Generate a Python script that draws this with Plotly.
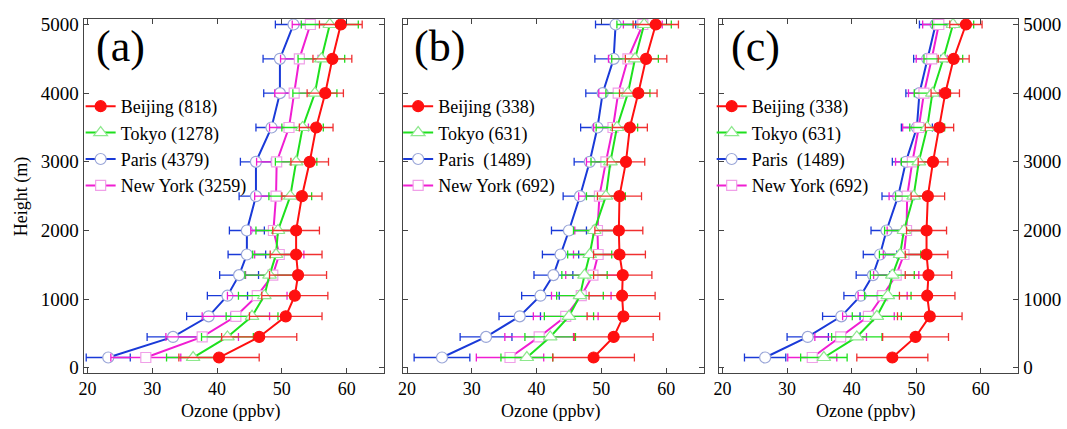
import plotly.graph_objects as go

heights = [150, 450, 750, 1050, 1350, 1650, 2000, 2500, 3000, 3500, 4000, 4500, 5000]
x_ticks = [20, 30, 40, 50, 60]
y_ticks = [0, 1000, 2000, 3000, 4000, 5000]

# Panel (a)
a_names = ["Beijing (818)", "Tokyo (1278)", "Paris (4379)", "New York (3259)"]
a_beijing = [40.3, 46.5, 50.6, 52.0, 52.5, 52.2, 52.2, 53.1, 54.3, 55.3, 56.7, 57.8, 59.1]
a_beijing_sd = [6.2, 5.8, 5.6, 5.1, 4.4, 4.0, 3.6, 3.1, 2.9, 2.6, 2.8, 3.0, 3.3]
a_tokyo = [36.3, 41.6, 45.4, 47.3, 48.1, 49.1, 49.4, 51.3, 52.2, 53.2, 55.1, 56.1, 57.4]
a_tokyo_sd = [4.1, 4.0, 4.0, 4.0, 3.8, 3.6, 3.4, 3.3, 3.2, 3.2, 3.4, 3.6, 4.4]
a_paris = [23.2, 33.2, 38.7, 41.6, 43.4, 44.6, 44.6, 46.0, 46.0, 48.4, 49.7, 49.7, 51.8]
a_paris_sd = [3.4, 4.0, 3.4, 3.1, 3.0, 2.9, 2.7, 2.6, 2.4, 2.4, 2.5, 2.6, 2.8]
a_newyork = [29.0, 37.7, 42.9, 46.2, 48.6, 49.6, 48.7, 49.1, 49.2, 51.1, 51.9, 52.7, 54.4]
a_newyork_sd = [5.4, 5.6, 5.2, 4.6, 4.2, 3.8, 3.5, 3.3, 3.1, 3.0, 3.0, 2.9, 2.8]

# Panel (b)
b_names = ["Beijing (338)", "Tokyo (631)", "Paris\u00a0\u00a0(1489)", "New York (692)"]
b_beijing = [48.8, 51.9, 53.4, 53.2, 53.3, 52.8, 52.7, 52.8, 53.8, 54.4, 55.7, 56.9, 58.4]
b_beijing_sd = [6.3, 6.1, 5.6, 5.1, 4.5, 4.0, 3.7, 3.4, 2.9, 2.7, 2.9, 3.2, 3.5]
b_tokyo = [38.5, 42.1, 45.0, 46.7, 47.4, 48.2, 48.9, 50.7, 51.4, 52.4, 54.1, 55.2, 56.6]
b_tokyo_sd = [4.0, 3.9, 3.8, 3.6, 3.5, 3.4, 3.2, 3.0, 3.0, 3.2, 3.4, 3.6, 4.2]
b_paris = [25.4, 32.2, 37.4, 40.6, 42.6, 43.7, 45.0, 46.7, 48.2, 49.4, 50.2, 51.9, 52.2]
b_paris_sd = [4.3, 4.0, 3.2, 2.9, 3.0, 2.8, 2.7, 2.6, 2.4, 2.6, 2.6, 2.9, 3.1]
b_newyork = [35.9, 40.4, 44.5, 46.9, 48.7, 49.5, 49.4, 49.7, 50.7, 51.8, 52.6, 54.1, 56.4]
b_newyork_sd = [5.2, 5.3, 5.0, 4.6, 4.2, 3.8, 3.5, 3.2, 3.0, 3.0, 3.0, 3.0, 3.0]

# Panel (c)
c_names = ["Beijing (338)", "Tokyo (631)", "Paris\u00a0\u00a0(1489)", "New York (692)"]
c_beijing = [46.3, 49.9, 52.1, 51.7, 51.9, 51.6, 51.6, 51.8, 52.6, 53.6, 54.5, 55.8, 57.7]
c_beijing_sd = [5.5, 5.1, 5.0, 4.3, 3.6, 3.3, 3.1, 2.6, 2.3, 2.2, 2.2, 2.4, 2.5]
c_tokyo = [35.7, 40.8, 43.9, 45.6, 46.3, 47.5, 48.1, 49.6, 50.4, 51.7, 52.5, 54.2, 55.7]
c_tokyo_sd = [3.6, 3.9, 3.8, 3.6, 3.4, 3.2, 3.0, 2.8, 2.7, 2.7, 2.8, 3.0, 3.2]
c_paris = [26.6, 33.2, 38.4, 41.4, 43.3, 44.4, 45.4, 47.2, 48.4, 50.1, 50.5, 51.7, 53.0]
c_paris_sd = [3.2, 3.2, 2.9, 2.6, 2.6, 2.6, 2.4, 2.5, 2.1, 2.4, 2.1, 2.1, 2.5]
c_newyork = [33.9, 38.3, 42.6, 44.8, 46.9, 48.1, 48.5, 48.6, 49.4, 50.4, 51.2, 52.4, 53.5]
c_newyork_sd = [3.8, 4.0, 4.0, 3.8, 3.5, 3.2, 3.0, 2.8, 2.6, 2.5, 2.4, 2.4, 2.5]

panel_labels = ["(a)", "(b)", "(c)"]
x_title = "Ozone (ppbv)"
y_title = "Height (m)"

W, H = 1067, 429
SERIF = "Times New Roman, Liberation Serif, DejaVu Serif, serif"

styles = {
    "beijing": dict(color="#ff1010", err="#f03030", symbol="circle", fill="#ff1010", outline="#ff1010", size=11, rank=1),
    "tokyo": dict(color="#1ee01e", err="#1ee01e", symbol="triangle-up", fill="white", outline="#8ee88e", size=12, rank=2),
    "paris": dict(color="#1a3ad8", err="#1a3ad8", symbol="circle", fill="white", outline="#9aa6d8", size=11, rank=3),
    "newyork": dict(color="#f01ed2", err="#f01ed2", symbol="square", fill="white", outline="#f0a0e8", size=10, rank=4),
}

panels = [
    (a_names, {"beijing": (a_beijing, a_beijing_sd), "tokyo": (a_tokyo, a_tokyo_sd),
               "paris": (a_paris, a_paris_sd), "newyork": (a_newyork, a_newyork_sd)}),
    (b_names, {"beijing": (b_beijing, b_beijing_sd), "tokyo": (b_tokyo, b_tokyo_sd),
               "paris": (b_paris, b_paris_sd), "newyork": (b_newyork, b_newyork_sd)}),
    (c_names, {"beijing": (c_beijing, c_beijing_sd), "tokyo": (c_tokyo, c_tokyo_sd),
               "paris": (c_paris, c_paris_sd), "newyork": (c_newyork, c_newyork_sd)}),
]

x_px = [(79, 381), (400, 702), (717, 1018)]
y_px = (15, 377.5)
legend_left_px = [76, 395, 710]

fig = go.Figure()
order = ["paris", "newyork", "tokyo", "beijing"]
name_idx = {"beijing": 0, "tokyo": 1, "paris": 2, "newyork": 3}

for i, (names, data) in enumerate(panels):
    ax = "" if i == 0 else str(i + 1)
    leg = "legend" if i == 0 else f"legend{i + 1}"
    for city in order:
        vals, sds = data[city]
        st = styles[city]
        fig.add_trace(go.Scatter(
            x=vals, y=heights, mode="lines+markers",
            name=names[name_idx[city]],
            legend=leg, legendrank=st["rank"],
            line=dict(color=st["color"], width=2),
            marker=dict(symbol=st["symbol"], size=st["size"], color=st["fill"],
                        line=dict(color=st["outline"], width=1.2)),
            error_x=dict(type="data", array=sds, visible=True,
                         color=st["err"], thickness=1.3, width=4),
            xaxis="x" + ax, yaxis="y" + ax,
        ))

layout = dict(
    width=W, height=H,
    margin=dict(l=0, r=0, t=0, b=0),
    paper_bgcolor="white", plot_bgcolor="white",
    font=dict(family=SERIF, size=18, color="black"),
    annotations=[],
)

for i in range(3):
    ax = "" if i == 0 else str(i + 1)
    x0, x1 = x_px[i]
    layout["xaxis" + ax] = dict(
        domain=[x0 / W, x1 / W], range=[19.4, 65.8],
        anchor="y" + ax, tickvals=x_ticks, ticks="inside", ticklen=5,
        showline=True, linecolor="#444", linewidth=1.2, mirror="ticks",
        showgrid=False, zeroline=False, tickfont=dict(family=SERIF, size=18),
    )
    layout["yaxis" + ax] = dict(
        domain=[1 - y_px[1] / H, 1 - y_px[0] / H], range=[-71, 5085],
        anchor="x" + ax, tickvals=y_ticks, ticks="inside", ticklen=5,
        showline=True, linecolor="#444", linewidth=1.2, mirror="ticks",
        showgrid=False, zeroline=False, tickfont=dict(family=SERIF, size=19),
        showticklabels=(i != 1), side=("right" if i == 2 else "left"),
    )
    leg = "legend" if i == 0 else f"legend{i + 1}"
    layout[leg] = dict(
        x=legend_left_px[i] / W, y=1 - 86 / H, xanchor="left", yanchor="top",
        bgcolor="rgba(0,0,0,0)", borderwidth=0,
        font=dict(family=SERIF, size=18), tracegroupgap=0,
        itemwidth=30,
    )
    layout["annotations"].append(dict(
        text=panel_labels[i], x=(x0 + 37) / W, y=1 - 44 / H,
        xref="paper", yref="paper", showarrow=False,
        font=dict(family=SERIF, size=44), xanchor="center", yanchor="middle",
    ))
    layout["annotations"].append(dict(
        text=x_title, x=((x0 + x1) / 2 - 3) / W, y=1 - 417 / H,
        xref="paper", yref="paper", showarrow=False,
        font=dict(family=SERIF, size=18), xanchor="center", yanchor="middle",
    ))

layout["annotations"].append(dict(
    text=y_title, x=16 / W, y=1 - 197 / H, textangle=-90,
    xref="paper", yref="paper", showarrow=False,
    font=dict(family=SERIF, size=18), xanchor="center", yanchor="middle",
))

fig.update_layout(**layout)
fig.write_html(
    "out.html",
    config={"displayModeBar": False},
    post_script="document.body.style.margin='0';document.body.style.overflow='hidden';",
)
